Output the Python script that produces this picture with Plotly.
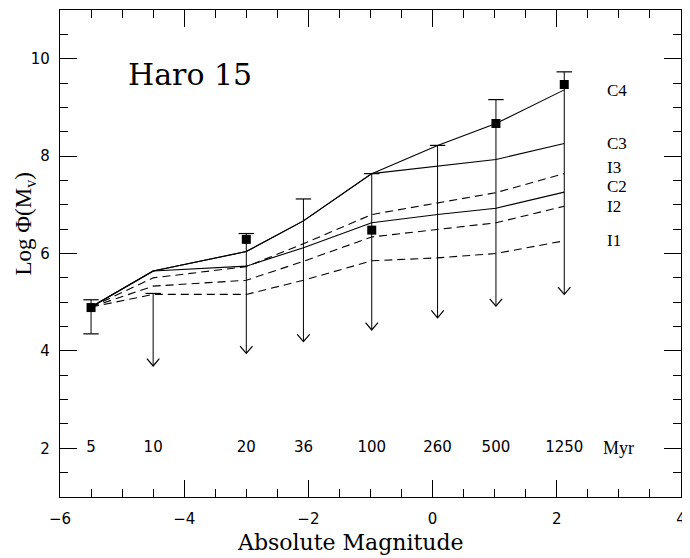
import plotly.graph_objects as go

# ---------------- data ----------------
mag = [-5.5, -4.5, -3.0, -2.08, -0.98, 0.08, 1.02, 2.12]
ages = ["5", "10", "20", "36", "100", "260", "500", "1250"]

C4 = [4.90, 5.64, 6.04, 6.67, 7.64, 8.22, 8.67, 9.36]
C3 = [4.90, 5.64, 6.04, 6.67, 7.64, 7.79, 7.93, 8.26]
C2 = [4.90, 5.64, 5.74, 6.12, 6.63, 6.80, 6.93, 7.26]
I3 = [4.90, 5.50, 5.73, 6.20, 6.80, 7.04, 7.25, 7.64]
I2 = [4.90, 5.33, 5.45, 5.84, 6.34, 6.50, 6.63, 6.97]
I1 = [4.90, 5.16, 5.16, 5.45, 5.85, 5.91, 6.00, 6.26]

obs_x = [-5.5, -3.0, -0.98, 1.02, 2.12]
obs_y = [4.89, 6.29, 6.48, 8.67, 9.47]

err_top = [5.05, 5.18, 6.41, 7.12, 7.64, 8.22, 9.16, 9.73]
err_bot = [4.35, 3.69, 3.95, 4.19, 4.43, 4.68, 4.92, 5.16]
is_limit = [False, True, True, True, True, True, True, True]

model_names = ["C4", "C3", "I3", "C2", "I2", "I1"]
model_label_y = [9.35, 8.25, 7.76, 7.38, 6.97, 6.26]
label_x = 2.78
age_label_y = 2.0
myr_x = 2.99

# ---------------- style ----------------
BLACK = "black"
SERIF_WIDE = "DejaVu Serif"
SERIF = "Liberation Serif"
SANS = "DejaVu Sans"
ARROW_DX = 0.10   # half width of arrow head, x units
ARROW_DY = 0.15   # height of arrow head, y units
PAGE_MARGIN = 8   # default body margin of the html page

fig = go.Figure()

models = {"C4": (C4, "solid"), "C3": (C3, "solid"), "C2": (C2, "solid"),
          "I3": (I3, "8px,5px"), "I2": (I2, "8px,5px"), "I1": (I1, "8px,5px")}
for name, (vals, dash) in models.items():
    fig.add_trace(go.Scatter(x=mag, y=vals, mode="lines", name=name,
                             line=dict(color=BLACK, width=1.1, dash=dash),
                             showlegend=False, hoverinfo="skip"))

# error bar stems
sx, sy = [], []
for x, t, b in zip(mag, err_top, err_bot):
    sx += [x, x, None]
    sy += [t, b, None]
fig.add_trace(go.Scatter(x=sx, y=sy, mode="lines", line=dict(color=BLACK, width=1),
                         showlegend=False, hoverinfo="skip"))

# caps: top of every bar, bottom where not a limit
cx = list(mag) + [x for x, lim in zip(mag, is_limit) if not lim]
cy = list(err_top) + [b for b, lim in zip(err_bot, is_limit) if not lim]
fig.add_trace(go.Scatter(x=cx, y=cy, mode="markers",
                         marker=dict(symbol="line-ew", size=11,
                                     line=dict(color=BLACK, width=1.2)),
                         showlegend=False, hoverinfo="skip"))

# arrow heads for limits
ax, ay = [], []
for x, b, lim in zip(mag, err_bot, is_limit):
    if lim:
        ax += [x - ARROW_DX, x, x + ARROW_DX, None]
        ay += [b + ARROW_DY, b, b + ARROW_DY, None]
fig.add_trace(go.Scatter(x=ax, y=ay, mode="lines", line=dict(color=BLACK, width=1.2),
                         showlegend=False, hoverinfo="skip"))

# observed points
fig.add_trace(go.Scatter(x=obs_x, y=obs_y, mode="markers",
                         marker=dict(symbol="square", size=9, color=BLACK),
                         showlegend=False, hoverinfo="skip"))

# age labels
fig.add_trace(go.Scatter(x=mag, y=[age_label_y] * len(mag),
                         mode="text", text=ages,
                         textfont=dict(family=SANS, size=15, color=BLACK),
                         showlegend=False, hoverinfo="skip"))
fig.add_annotation(x=myr_x, y=age_label_y, text="Myr", showarrow=False,
                   font=dict(family=SERIF, size=18, color=BLACK))

# model labels
for name, yv in zip(model_names, model_label_y):
    fig.add_annotation(x=label_x, y=yv, text=name, showarrow=False, xanchor="left",
                       font=dict(family=SERIF, size=17, color=BLACK))

# title inside plot
fig.add_annotation(x=-3.9, y=9.68, text="Haro 15", showarrow=False,
                   font=dict(family=SERIF_WIDE, size=30, color=BLACK))

# axis titles
fig.add_annotation(xref="paper", yref="paper", x=-0.056, y=0.56, textangle=-90,
                   text="Log Φ(M<sub>v</sub>)", showarrow=False,
                   xanchor="center", yanchor="middle",
                   font=dict(family=SERIF, size=23, color=BLACK))
fig.add_annotation(xref="paper", yref="paper", x=0.468, y=-0.094,
                   text="Absolute Magnitude", showarrow=False,
                   xanchor="center", yanchor="middle",
                   font=dict(family=SERIF_WIDE, size=22, color=BLACK))

axis_common = dict(showline=True, linecolor=BLACK, linewidth=1.2, mirror="ticks",
                   ticks="inside", ticklen=17, tickwidth=1.2, tickcolor=BLACK,
                   showgrid=False, zeroline=False, automargin=False,
                   tickfont=dict(family=SANS, size=15, color=BLACK),
                   minor=dict(ticks="inside", ticklen=8, tickwidth=1.2,
                              tickcolor=BLACK, dtick=0.5, showgrid=False))

fig.update_xaxes(range=[-6, 4], tick0=0, dtick=2, ticklabelstandoff=8, **axis_common)
fig.update_yaxes(range=[1, 11], tick0=0, dtick=2, ticklabelstandoff=6, **axis_common)

fig.update_layout(width=690 - PAGE_MARGIN, height=558 - PAGE_MARGIN,
                  margin=dict(l=60 - PAGE_MARGIN, r=9, t=10 - PAGE_MARGIN,
                              b=61, autoexpand=False),
                  paper_bgcolor="white", plot_bgcolor="white")

fig.write_html("out.html")
